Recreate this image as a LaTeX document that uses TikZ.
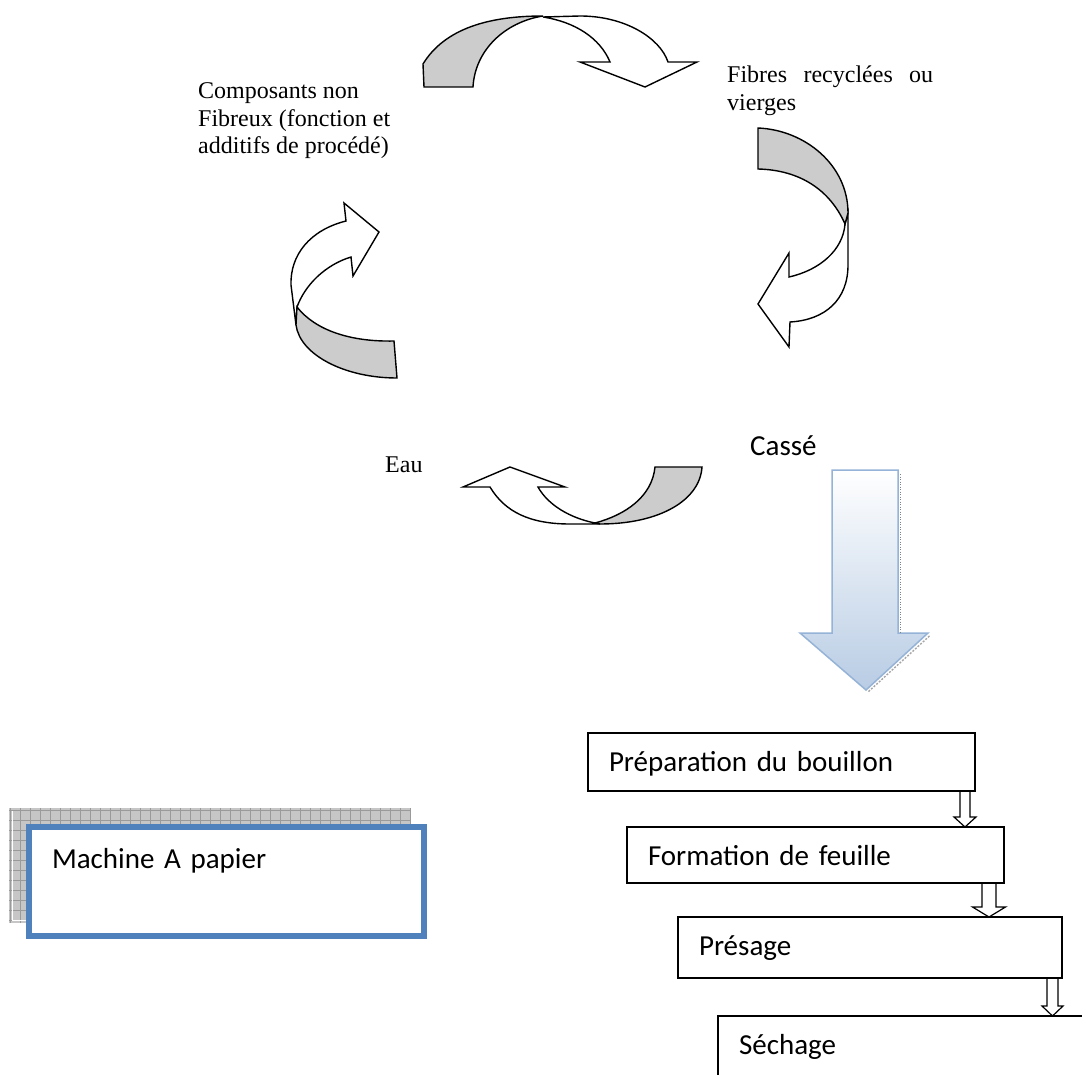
\documentclass[tikz,border=0pt]{standalone}
\usepackage{fontspec}
\setmainfont{Liberation Serif}
\newfontfamily\calibrifont{Carlito}
\usetikzlibrary{calc}
\definecolor{shadegray}{HTML}{CCCCCC}
\definecolor{bigblue}{HTML}{B8CCE4}
\definecolor{bigborder}{HTML}{95B3D7}
\definecolor{machblue}{HTML}{4F81BD}
\definecolor{patgray}{HTML}{C6C6C6}
\definecolor{gridgray}{HTML}{9A9A9A}
\newcommand{\hollowarrow}[5]{%
  \draw[smallarrow] let \p1=(#1.south), \p2=(#2.north) in
    ({#3pt-#4pt},\y1) -- ({#3pt-#4pt},{\y2+10pt}) -- ({#3pt-#5pt},{\y2+10pt}) -- (#3pt,\y2)
    -- ({#3pt+#5pt},{\y2+10pt}) -- ({#3pt+#4pt},{\y2+10pt}) -- ({#3pt+#4pt},\y1);}
\begin{document}
\begin{tikzpicture}[x=1pt,y=-1pt,
  curv/.style={draw=black, line width=1.4pt, line join=miter},
  serif/.style={font=\fontsize{24}{27}\selectfont, inner sep=0pt, anchor=base west},
  cal/.style={font=\calibrifont\fontsize{29}{35}\selectfont},
  stepbox/.style={draw=black, line width=1.3pt, cal, anchor=north west, inner xsep=21pt,
    inner ysep=0pt, outer sep=0pt, align=left, text height=38.5pt},
  smallarrow/.style={draw=black, line width=1.2pt, line join=miter}]
\useasboundingbox (0,0) rectangle (1082,1075);
\fill[white] (0,0) rectangle (1082,1075);
\clip (0,0) rectangle (1082,1075);

% top curved arrow
\draw[curv, fill=white] (543,17) -- (580,16) .. controls (625,16) and (660,38) .. (668,62) -- (697,62) -- (645,87) -- (580,62) -- (610,62) .. controls (600,38) and (575,22) .. (543,17) -- cycle;
\draw[curv, fill=shadegray] (424,87) -- (423,64) .. controls (445,28) and (490,16) .. (543,16) .. controls (505,22) and (475,50) .. (473,87) -- cycle;

% right curved arrow
\draw[curv, fill=white] (845,224) -- (848,213) -- (848,265) .. controls (848,300) and (825,320) .. (790,322) -- (789,347) -- (758,304) -- (789,253) -- (789,277) .. controls (820,270) and (843,250) .. (845,224) -- cycle;
\draw[curv, fill=shadegray] (758,128) .. controls (805,130) and (848,165) .. (848,213) -- (845,224) .. controls (830,190) and (800,170) .. (758,169) -- cycle;

% left curved arrow
\draw[curv, fill=white] (296,325) -- (291,285) .. controls (290,255) and (310,230) .. (346,221) -- (344,203) -- (379,232) -- (353,276) -- (351,257) .. controls (325,265) and (305,285) .. (297,307) -- cycle;
\draw[curv, fill=shadegray] (297,307) .. controls (315,330) and (350,342) .. (394,341) -- (397,378) .. controls (345,378) and (300,355) .. (296,325) -- cycle;

% bottom curved arrow
\draw[curv, fill=white] (595,523) .. controls (570,518) and (548,505) .. (538,487) -- (565,487) -- (510,467) -- (463,487) -- (490,487) .. controls (505,512) and (530,524) .. (570,524) -- (600,524) -- cycle;
\draw[curv, fill=shadegray] (655,467) -- (702,467) .. controls (700,500) and (660,524) .. (600,524) -- (595,523) .. controls (625,515) and (652,497) .. (655,467) -- cycle;

% labels of the cycle
\node[serif] (comp1) at (198,99) {Composants non};
\node[serif] (comp2) at (198,126.5) {Fibreux (fonction et};
\node[serif] (comp3) at (198,154) {additifs de procédé)};
\node[serif] (fib1) at (727,83) {\hbox to 206pt{Fibres\hfill recyclées\hfill ou}};
\node[serif] (fib2) at (727,111) {vierges};
\node[serif] (eau) at (385,472) {Eau};
\node[cal, anchor=base west, inner sep=0pt] (casse) at (750,455) {Cassé};

% big gradient arrow
\path[draw=bigborder, line width=1.5pt, top color=white, bottom color=bigblue]
  (832,470) -- (898,470) -- (898,633) -- (928,633) -- (866,690) -- (800,633) -- (832,633) -- cycle;
\draw[gray, line width=0.8pt, dash pattern=on 1pt off 1.5pt] (900.5,474) -- (900.5,633);
\draw[gray!70, line width=1.4pt, dash pattern=on 2pt off 1.5pt] (929.5,636) -- (868,692);

% machine box with patterned shadow
\fill[patgray] (9,808) rectangle (411,923);
\draw[gridgray, line width=0.6pt, step=10pt] (9,808) grid (411,923);
\draw[white, line width=0.8pt] (12.5,811) -- (12.5,920.5) -- (26,920.5);
\node[draw=machblue, line width=6pt, fill=white, cal, anchor=north west, inner xsep=23pt,
  inner ysep=0pt, outer sep=0pt, text width=349pt, align=left, text height=41pt, text depth=68pt]
  (machine) at (29,827) {Machine A papier};

% process steps
\node[stepbox, text width=345pt, text depth=19.5pt] (prep) at (588,733) {Préparation du bouillon};
\node[stepbox, text width=335pt, text depth=17.5pt] (form) at (627,827) {Formation de feuille};
\node[stepbox, text width=342pt, text depth=22.5pt] (pres) at (678,917) {Présage};
\node[stepbox, text width=378pt, text depth=41.5pt] (sech) at (718,1016) {Séchage};

\hollowarrow{prep}{form}{965}{5}{11}
\hollowarrow{form}{pres}{989}{7}{16.5}
\hollowarrow{pres}{sech}{1052.5}{5.5}{10.5}
\end{tikzpicture}
\end{document}
